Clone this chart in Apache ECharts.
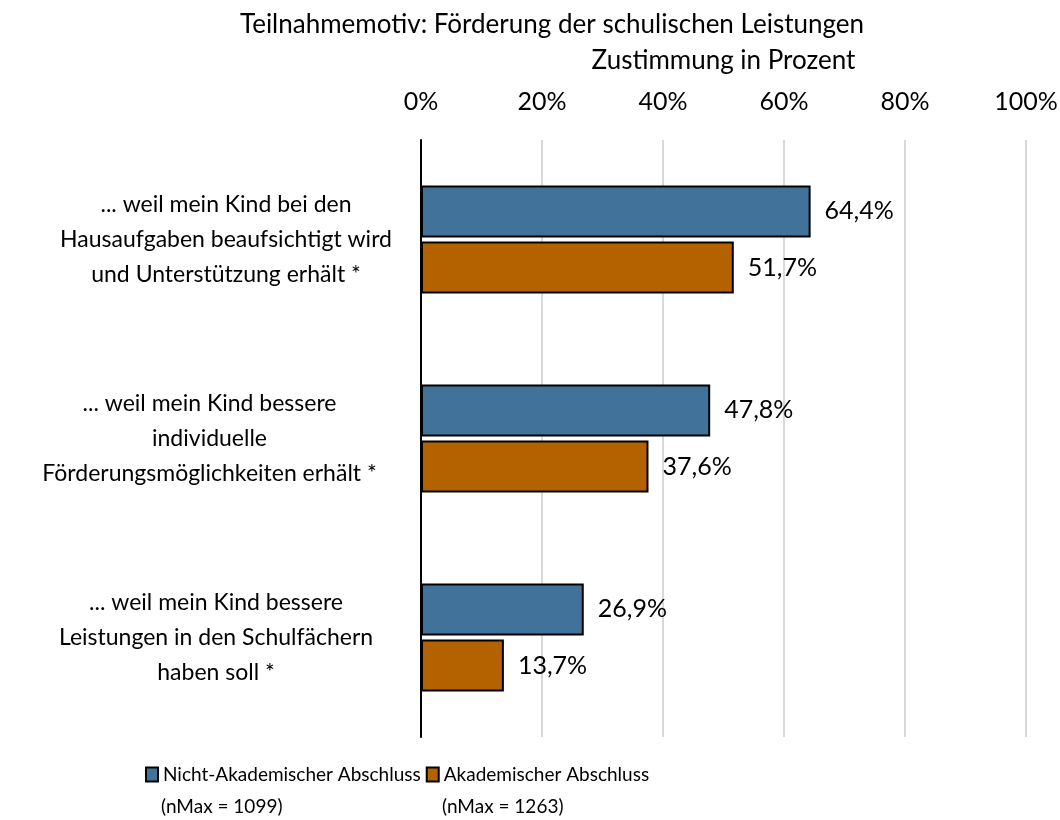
<!DOCTYPE html>
<html><head><meta charset="utf-8">
<script src="https://cdn.jsdelivr.net/npm/echarts@6/dist/echarts.min.js"></script>
<style>html,body{margin:0;padding:0;background:#fff}#c{width:1060px;height:820px}</style>
</head><body><div id="c"></div>
<script>
const categories = [
  "... weil mein Kind bei den\nHausaufgaben beaufsichtigt wird\nund Unterstützung erhält *",
  "... weil mein Kind bessere\nindividuelle\nFörderungsmöglichkeiten erhält *",
  "... weil mein Kind bessere\nLeistungen in den Schulfächern\nhaben soll *"
];
const seriesNames = ["Nicht-Akademischer Abschluss", "Akademischer Abschluss"];
const seriesNotes = ["(nMax = 1099)", "(nMax = 1263)"];
const nichtAkademisch = [64.4, 47.8, 26.9];
const akademisch = [51.7, 37.6, 13.7];
const xTicks = [0, 20, 40, 60, 80, 100];

const FONT = 'Lato';
const catBoxW = [358, 391, 378];
const rich = {};
catBoxW.forEach((w, i) => {
  rich['c' + i] = { width: w, align: 'center', fontSize: 23, lineHeight: 35, color: '#000', fontFamily: FONT };
});
const chart = echarts.init(document.getElementById('c'));
const lbl = {
  show: true, position: 'right', distance: 14, color: '#000', fontSize: 25, fontFamily: FONT,
  formatter: p => p.value.toFixed(1).replace('.', ',') + '%'
};
chart.setOption({
  animation: false,
  textStyle: { fontFamily: FONT },
  title: {
    text: 'Teilnahmemotiv: Förderung der schulischen Leistungen',
    left: 547, top: 7, textAlign: 'center',
    textStyle: { fontSize: 26, fontWeight: 'normal', color: '#000', fontFamily: FONT }
  },
  grid: { left: 421, right: 34, top: 140, bottom: 83, containLabel: false, outerBoundsMode: 'none' },
  xAxis: {
    type: 'value', position: 'top', min: xTicks[0], max: xTicks[xTicks.length - 1], interval: 20,
    name: 'Zustimmung in Prozent', nameLocation: 'middle', nameGap: 66,
    nameTextStyle: { fontSize: 26, color: '#000', fontFamily: FONT },
    axisLine: { show: false }, axisTick: { show: false },
    axisLabel: { formatter: '{value}%', fontSize: 25, color: '#000', margin: 26, fontFamily: FONT },
    splitLine: { show: true, lineStyle: { color: '#d9d9d9', width: 2 } }
  },
  yAxis: {
    type: 'category', inverse: true, data: categories,
    axisLine: { show: true, lineStyle: { color: '#000', width: 2 } },
    axisTick: { show: false },
    axisLabel: {
      fontSize: 23, lineHeight: 35, color: '#000', align: 'right', margin: 16, fontFamily: FONT,
      formatter: (v, i) => v.split('\n').map(l => '{c' + i + '|' + l + '}').join('\n'),
      rich: rich
    }
  },
  legend: {
    data: seriesNames, left: 145, top: 765, padding: 0, itemWidth: 12, itemHeight: 14, itemGap: 5,
    icon: 'rect',
    textStyle: { fontSize: 19, color: '#000', fontFamily: FONT, padding: [0, 0, 0, 0] }
  },
  graphic: [
    { type: 'text', left: 161, top: 797, style: { text: seriesNotes[0], fontSize: 19, fill: '#000', fontFamily: FONT } },
    { type: 'text', left: 442, top: 797, style: { text: seriesNotes[1], fontSize: 19, fill: '#000', fontFamily: FONT } }
  ],
  series: [
    { name: seriesNames[0], type: 'bar', data: nichtAkademisch, barWidth: 52, barGap: '8%',
      itemStyle: { color: '#41739a', borderColor: '#000', borderWidth: 2 }, label: lbl },
    { name: seriesNames[1], type: 'bar', data: akademisch, barWidth: 52, barGap: '8%',
      itemStyle: { color: '#b46200', borderColor: '#000', borderWidth: 2 }, label: lbl }
  ]
});
</script></body></html>
